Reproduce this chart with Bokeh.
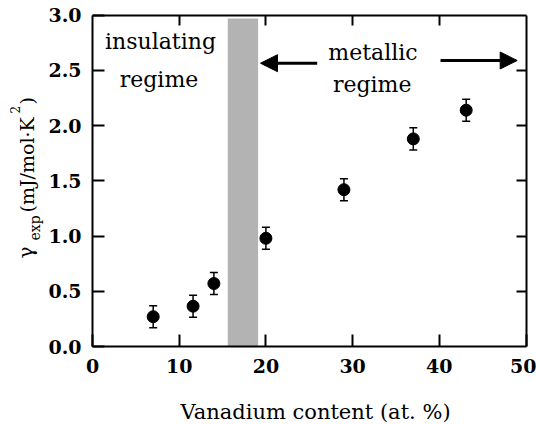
import math
from bokeh.plotting import figure
from bokeh.models import (ColumnDataSource, Whisker, TeeHead, Label, Arrow, NormalHead,
                          LinearAxis, Range1d, FixedTicker, NumeralTickFormatter)
from bokeh.embed import file_html
from bokeh.resources import INLINE

# ---- data ----
vanadium = [7.0, 11.6, 14.0, 20.0, 29.0, 37.0, 43.1]
gamma_exp = [0.27, 0.365, 0.57, 0.98, 1.42, 1.88, 2.14]
gamma_err = [0.1, 0.1, 0.1, 0.1, 0.1, 0.1, 0.1]
band_left = [15.6]
band_right = [19.1]
band_top = [2.97]
x_ticks = [0, 10, 20, 30, 40, 50]
y_ticks = [0.0, 0.5, 1.0, 1.5, 2.0, 2.5, 3.0]
X_MIN, X_MAX = 0, 50
Y_MIN, Y_MAX = 0.0, 3.0

SERIF = "DejaVu Serif"

# ---- layout (pixels of the 536x424 canvas) ----
W, H = 536, 424
FL, FR, FT, FB = 92.0, 525.5, 14.7, 346.0   # frame edges of the axes box
XS = (FR - FL) / (X_MAX - X_MIN)
YS = (FB - FT) / (Y_MAX - Y_MIN)
DESC = 0.27  # baseline correction (fraction of font size)

def X(px):
    return X_MIN + (px - FL) / XS

def Y(py):
    return Y_MIN + (FB - py) / YS

p = figure(width=W, height=H, output_backend="svg", toolbar_location=None,
           x_range=Range1d(X(0), X(W)), y_range=Range1d(Y(H), Y(0)),
           min_border_left=0, min_border_right=0, min_border_top=0, min_border_bottom=0,
           background_fill_color="white", border_fill_color="white")
p.title.visible = False
p.grid.visible = False
p.outline_line_color = None

def style(ax, show_labels):
    ax.axis_line_width = 2
    ax.axis_line_color = "black"
    ax.major_tick_in = 12
    ax.major_tick_out = 0
    ax.major_tick_line_width = 2
    ax.minor_tick_in = 0
    ax.minor_tick_out = 0
    if show_labels:
        ax.major_label_text_font = SERIF
        ax.major_label_text_font_style = "bold"
        ax.major_label_text_font_size = "19px"
        ax.major_label_text_color = "black"
    else:
        ax.major_label_text_color = None

xa = p.xaxis[0]
ya = p.yaxis[0]
xa.ticker = FixedTicker(ticks=x_ticks)
ya.ticker = FixedTicker(ticks=y_ticks)
ya.formatter = NumeralTickFormatter(format="0.0")
style(xa, True)
style(ya, True)
xa.fixed_location = Y_MIN
xa.bounds = (X_MIN, X_MAX)
ya.fixed_location = X_MIN
ya.bounds = (Y_MIN, Y_MAX)
xa.major_label_standoff = 12
ya.major_label_standoff = 11

top_ax = LinearAxis(ticker=FixedTicker(ticks=x_ticks[1:-1]), fixed_location=Y_MAX, bounds=(X_MIN, X_MAX))
right_ax = LinearAxis(ticker=FixedTicker(ticks=y_ticks[1:-1]), fixed_location=X_MAX, bounds=(Y_MIN, Y_MAX))
style(top_ax, False)
style(right_ax, False)
top_ax.major_tick_in = 10
right_ax.major_tick_in = 10
p.add_layout(top_ax, "above")
p.add_layout(right_ax, "right")

# gray transition band
band = ColumnDataSource(dict(left=band_left, right=band_right, top=band_top, bottom=[Y_MIN] * len(band_left)))
p.quad(left="left", right="right", top="top", bottom="bottom", source=band,
       fill_color="#b3b3b3", line_color=None, level="underlay")

# data with error bars
src = ColumnDataSource(dict(x=vanadium, y=gamma_exp,
                            upper=[v + e for v, e in zip(gamma_exp, gamma_err)],
                            lower=[v - e for v, e in zip(gamma_exp, gamma_err)]))
w = Whisker(base="x", upper="upper", lower="lower", source=src, dimension="height",
            line_color="black", line_width=1.5,
            upper_head=TeeHead(size=8, line_color="black", line_width=1.5),
            lower_head=TeeHead(size=8, line_color="black", line_width=1.5))
p.add_layout(w)
p.scatter("x", "y", source=src, size=12, marker="circle", fill_color="black", line_color="black")

def lab(px, py, text, size, align="center"):
    # horizontal text: py is the wanted baseline in canvas pixels
    p.add_layout(Label(x=X(px), y=Y(py - DESC * size), text=text, text_font=SERIF,
                       text_font_size=f"{size}px", text_align=align,
                       text_baseline="alphabetic", text_color="black"))

def vlab(bx, py, text, size):
    # rotated text reading upward: bx is the wanted baseline x, py the start
    p.add_layout(Label(x=X(bx - DESC * size), y=Y(py), text=text, text_font=SERIF,
                       text_font_size=f"{size}px", text_align="left",
                       text_baseline="alphabetic", angle=math.pi / 2, text_color="black"))

lab(160, 47.3, "insulating", 22)
lab(158.5, 85, "regime", 22)
lab(372.5, 58, "metallic", 22)
lab(371.7, 90, "regime", 22)

# arrows
for xs, xe, yy in [(316.7, 260, 62.7), (440, 516.7, 60)]:
    p.add_layout(Arrow(x_start=X(xs), y_start=Y(yy), x_end=X(xe), y_end=Y(yy), line_width=3,
                       line_color="black",
                       end=NormalHead(size=17, fill_color="black", line_color="black", line_width=1)))

# x-axis label
lab(315, 417, "Vanadium content (at. %)", 21)

# y-axis label composed of pieces (rotated)
vlab(31, 258, "γ", 20)
vlab(38, 240, "exp", 14)
vlab(32, 212, "(mJ/mol·K", 19)
vlab(18, 113, "2", 12)
vlab(32, 104, ")", 19)

open("out.html", "w").write(file_html(p, INLINE))
